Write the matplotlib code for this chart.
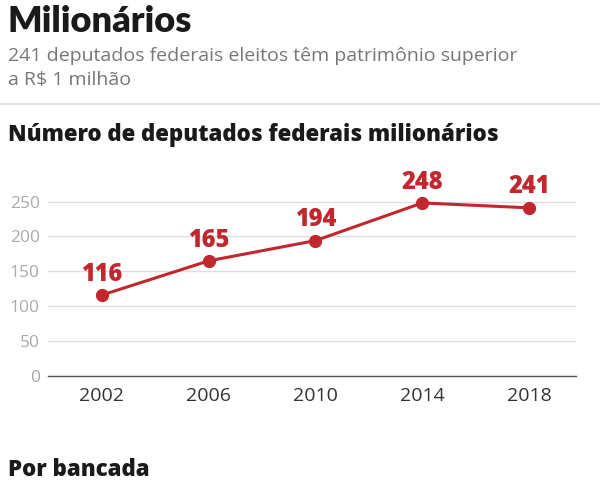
import matplotlib.pyplot as plt

years = [2002, 2006, 2010, 2014, 2018]
deputados = [116, 165, 194, 248, 241]
yticks = [0, 50, 100, 150, 200, 250]

red = '#c1272d'
W, H = 600, 486

fig = plt.figure(figsize=(6, 4.86), dpi=100)
fig.patch.set_facecolor('white')

def fy(py):
    return 1 - py / H

fig.text(7 / W, fy(21), 'Milionários', fontsize=26, fontweight='heavy',
         family='Lato', color='#1a1a1a', va='center', ha='left')
fig.text(8 / W, fy(56), '241 deputados federais eleitos têm patrimônio superior',
         fontsize=14, family='Open Sans', color='#777777', va='center', ha='left')
fig.text(8 / W, fy(80), 'a R$ 1 milhão',
         fontsize=14, family='Open Sans', color='#777777', va='center', ha='left')
fig.add_artist(plt.Line2D([0, 1], [fy(104), fy(104)], color='#dddddd', lw=1.2))
fig.text(8 / W, fy(135), 'Número de deputados federais milionários',
         fontsize=16, fontweight=800, family='Open Sans', color='#1a1a1a',
         va='center', ha='left')
fig.text(8 / W, fy(470), 'Por bancada',
         fontsize=16, fontweight=800, family='Open Sans', color='#1a1a1a',
         va='center', ha='left')

ax = fig.add_axes([48 / W, fy(376), (576 - 48) / W, (376 - 180.6) / H])
ax.plot(years, deputados, color=red, lw=2.2, marker='o', ms=8.5, zorder=3)
for x, y in zip(years, deputados):
    ax.annotate(str(y), (x, y), xytext=(0, 6), textcoords='offset points',
                ha='center', va='bottom', fontsize=17, fontweight=800,
                family='Open Sans', color=red)

ax.set_xlim(1999.98, 2019.76)
ax.set_ylim(0, 280)
ax.set_yticks(yticks)
ax.set_xticks(years)
ax.grid(axis='y', color='#dddddd', lw=1)
ax.set_axisbelow(True)
for s in ['top', 'right', 'left']:
    ax.spines[s].set_visible(False)
ax.spines['bottom'].set_color('#555555')
ax.spines['bottom'].set_linewidth(1)
ax.tick_params(axis='both', length=0)
ax.tick_params(axis='y', pad=6, labelsize=12.5, labelcolor='#aaaaaa')
ax.tick_params(axis='x', pad=8, labelsize=14, labelcolor='#333333')
for lab in ax.get_xticklabels() + ax.get_yticklabels():
    lab.set_family('Open Sans')

fig.savefig('out.png', dpi=100)
